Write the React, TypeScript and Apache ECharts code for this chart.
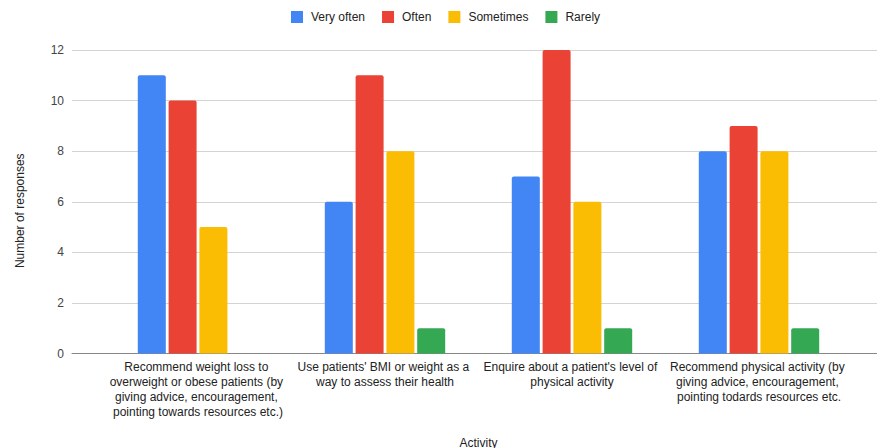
import React, { useEffect, useRef } from "react";
import * as echarts from "echarts";

const categories = [
  "Recommend weight loss to overweight or obese patients (by giving advice, encouragement, pointing towards resources etc.)",
  "Use patients' BMI or weight as a way to assess their health",
  "Enquire about a patient's level of physical activity",
  "Recommend physical activity (by giving advice, encouragement, pointing todards resources etc.",
];

const seriesNames = ["Very often", "Often", "Sometimes", "Rarely"];
const veryOften = [11, 6, 7, 8];
const often = [10, 11, 12, 9];
const sometimes = [5, 8, 6, 8];
const rarely = [0, 1, 1, 1];
const colors = ["#4285F4", "#EA4335", "#FBBC04", "#34A853"];

const yTicks = { min: 0, max: 12, interval: 2 };

const FONT = "'Liberation Sans', Arial, sans-serif";

export default function App() {
  const ref = useRef<HTMLDivElement>(null);

  useEffect(() => {
    if (!ref.current) return;
    const chart = echarts.init(ref.current, null, { renderer: "svg" });
    const values = [veryOften, often, sometimes, rarely];

    chart.setOption({
      animation: false,
      color: colors,
      textStyle: { fontFamily: FONT },
      legend: {
        data: seriesNames,
        left: 291,
        top: 11,
        padding: 0,
        icon: "rect",
        itemWidth: 12,
        itemHeight: 12,
        itemGap: 17,
        textStyle: { fontFamily: FONT, fontSize: 12, color: "#222", padding: [0, 0, 0, 3] },
      },
      grid: [
        // full-width frame: gridlines, value labels, baseline
        { left: 72, right: -10, top: 50, bottom: 94.5, outerBoundsMode: "none" },
        // category band area holding the bars
        { left: 104.5, right: 24.5, top: 50, bottom: 94.5, outerBoundsMode: "none" },
      ],
      xAxis: [
        {
          gridIndex: 0,
          type: "value",
          min: 0,
          max: 1,
          axisLine: { show: true, lineStyle: { color: "#888", width: 1 } },
          axisTick: { show: false },
          axisLabel: { show: false },
          splitLine: { show: false },
        },
        {
          gridIndex: 1,
          type: "category",
          data: categories,
          axisLine: { show: false },
          axisTick: { show: false },
          axisLabel: {
            interval: 0,
            margin: 6,
            fontFamily: FONT,
            fontSize: 12,
            color: "#222",
            lineHeight: 15,
            width: 186,
            overflow: "break",
            align: "center",
          },
          name: "Activity",
          nameLocation: "middle",
          nameGap: 83,
          nameTextStyle: { fontFamily: FONT, fontSize: 12, color: "#222" },
        },
      ],
      yAxis: [
        {
          gridIndex: 0,
          type: "value",
          min: yTicks.min,
          max: yTicks.max,
          interval: yTicks.interval,
          axisLine: { show: false },
          axisTick: { show: false },
          axisLabel: { margin: 8, fontFamily: FONT, fontSize: 12, color: "#444" },
          splitLine: { show: true, lineStyle: { color: "#d4d4d4", width: 1 } },
          name: "Number of responses",
          nameLocation: "middle",
          nameGap: 46,
          nameTextStyle: {
            fontFamily: FONT,
            fontSize: 12,
            color: "#222",
            padding: [0, 18, 0, 0],
          },
        },
        {
          gridIndex: 1,
          type: "value",
          min: yTicks.min,
          max: yTicks.max,
          interval: yTicks.interval,
          show: false,
        },
      ],
      series: seriesNames.map((name, i) => ({
        name,
        type: "bar",
        xAxisIndex: 1,
        yAxisIndex: 1,
        data: values[i],
        barWidth: 28,
        barGap: "10%",
        itemStyle: { color: colors[i], borderRadius: [2, 2, 0, 0] },
      })),
    });

    return () => chart.dispose();
  }, []);

  return (
    <div
      ref={ref}
      style={{ position: "fixed", left: 0, top: 0, width: 877, height: 448, background: "#fff" }}
    />
  );
}
